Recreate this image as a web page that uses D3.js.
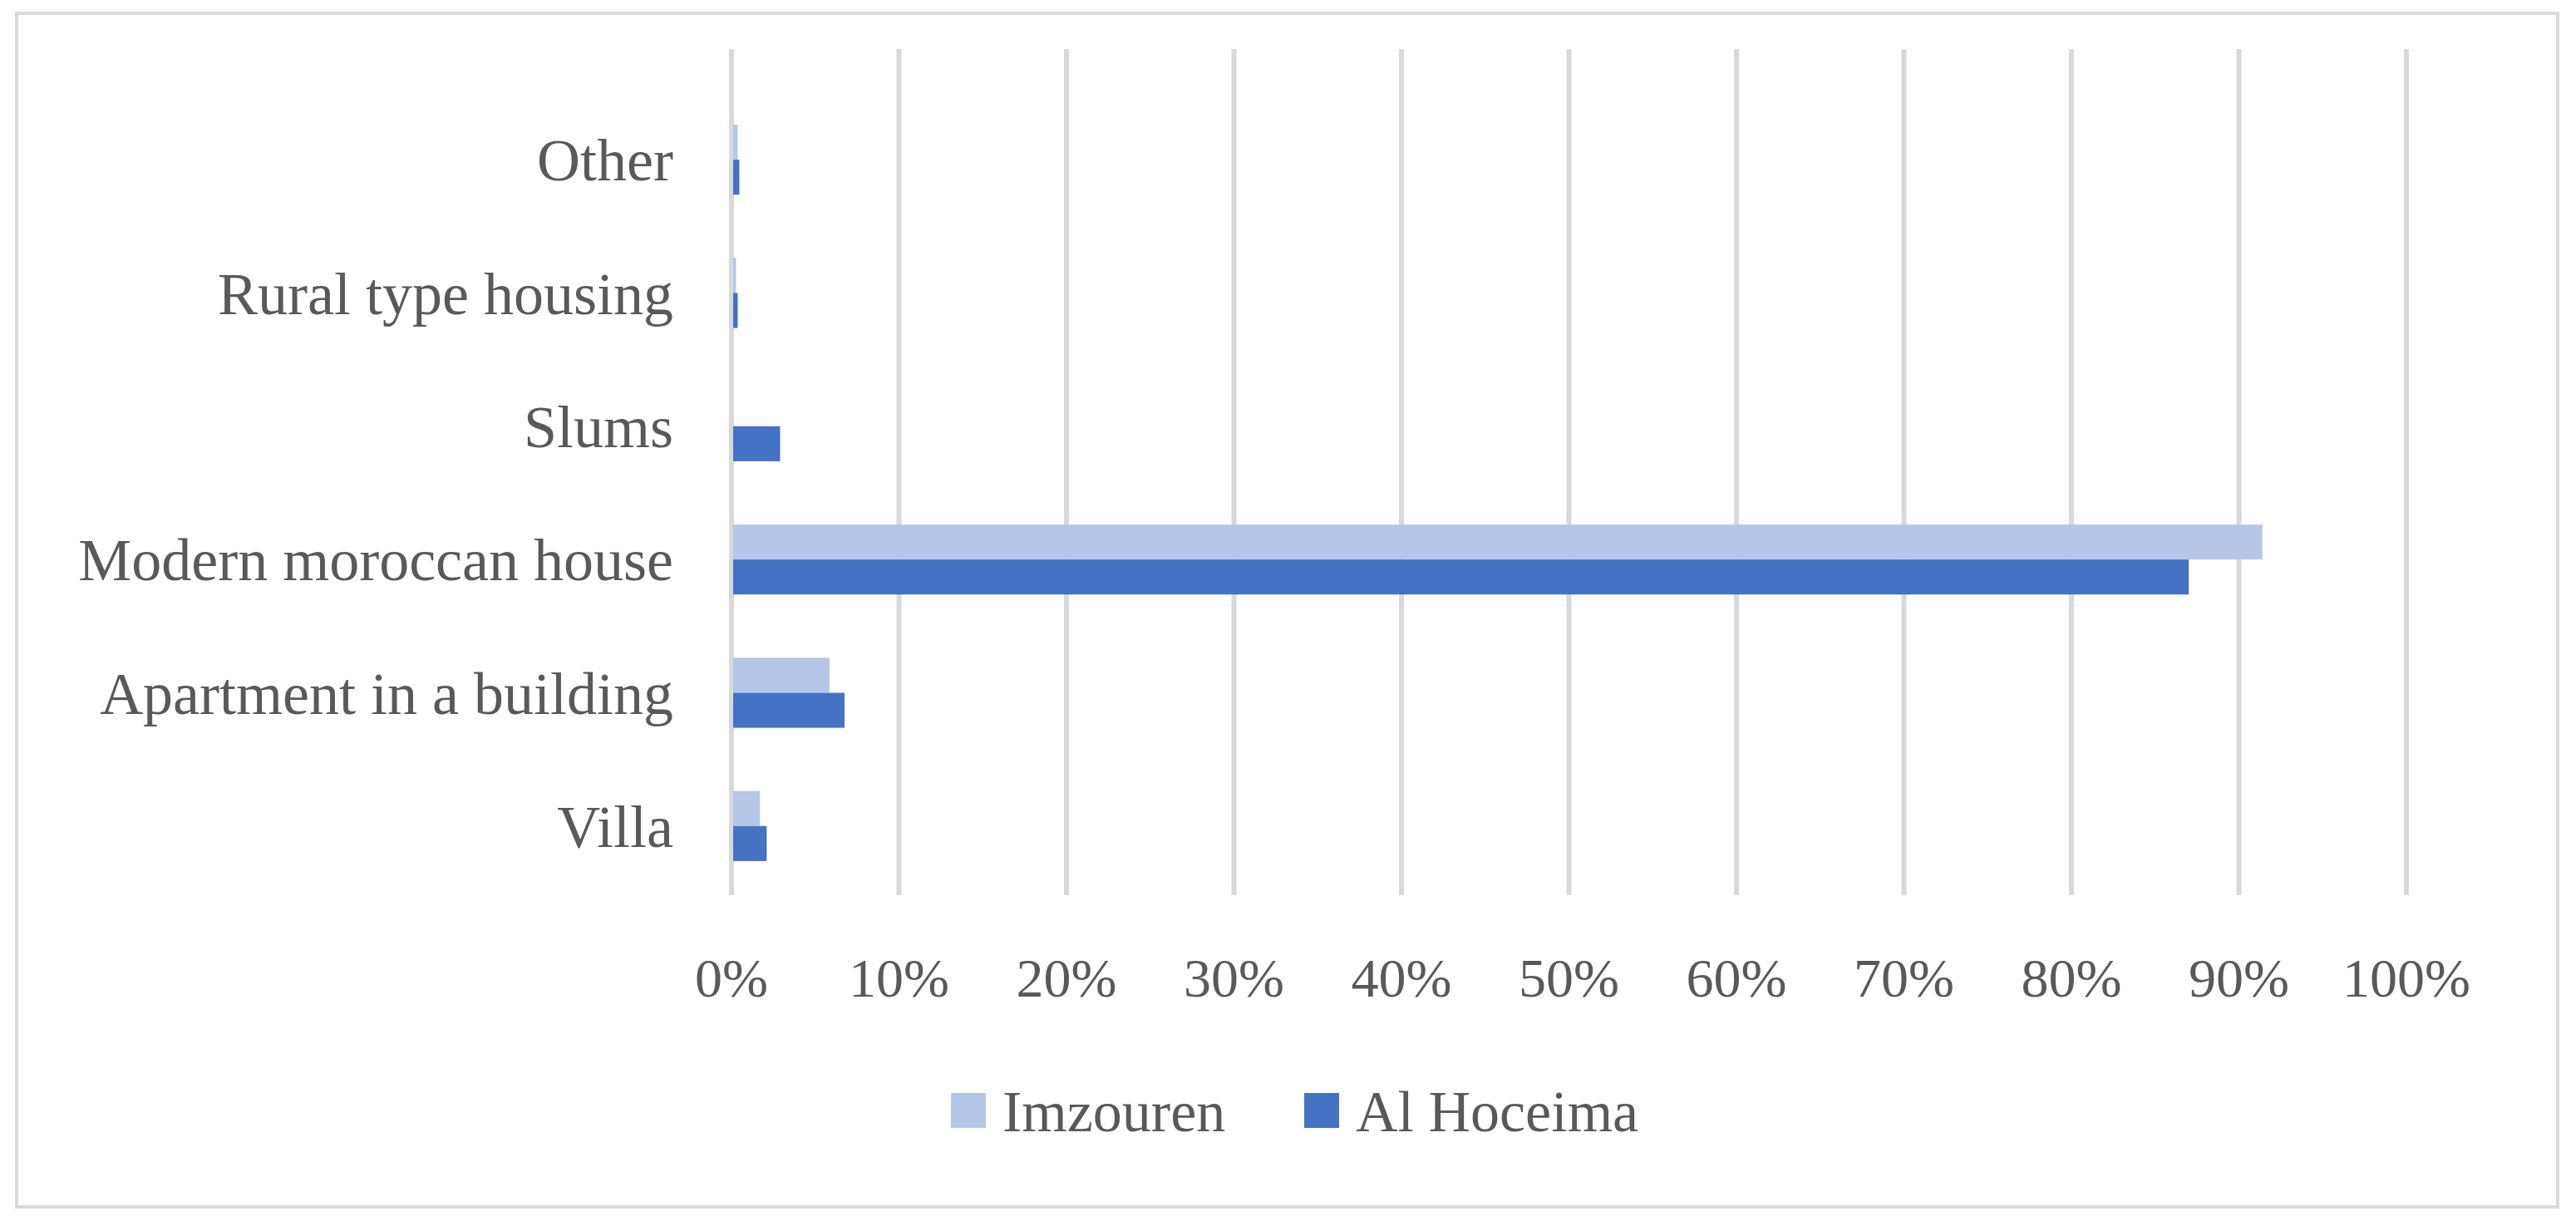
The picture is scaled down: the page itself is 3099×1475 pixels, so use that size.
<!DOCTYPE html>
<html>
<head>
<meta charset="utf-8">
<script src="https://cdn.jsdelivr.net/npm/d3@7"></script>
<style>
  body { margin: 0; background: #fff; }
  text { font-family: "Liberation Serif", "DejaVu Serif", serif; fill: #595959; }
</style>
</head>
<body>
<div id="chart"></div>
<script>
const width = 3099;
const height = 1475;
const margin = { top: 59, right: 204, bottom: 398, left: 880 };

// data, top to bottom as drawn
const categories = ["Other", "Rural type housing", "Slums", "Modern moroccan house", "Apartment in a building", "Villa"];
const imzouren = [0.37, 0.27, 0.07, 91.4, 5.85, 1.7];
const alHoceima = [0.47, 0.37, 2.9, 87.0, 6.75, 2.1];
const seriesNames = ["Imzouren", "Al Hoceima"];
const seriesColors = ["#b4c7e7", "#4472c4"];
const xTicks = [0, 10, 20, 30, 40, 50, 60, 70, 80, 90, 100];

const svg = d3.select("#chart")
    .append("svg")
    .attr("width", width)
    .attr("height", height);

// outer frame
svg.append("rect")
    .attr("x", 20).attr("y", 16)
    .attr("width", 3057).attr("height", 1436)
    .attr("fill", "#fff")
    .attr("stroke", "#d9d9d9")
    .attr("stroke-width", 4);

const x = d3.scaleLinear().domain([0, 100]).range([margin.left, width - margin.right]);
const y = d3.scaleBand().domain(categories).range([112, 1074]).paddingInner(0.475).paddingOuter(0.2375);
const sub = d3.scaleBand().domain(seriesNames).range([0, y.bandwidth()]);

// gridlines
svg.append("g")
    .selectAll("line")
    .data(xTicks)
    .join("line")
    .attr("x1", d => x(d)).attr("x2", d => x(d))
    .attr("y1", margin.top).attr("y2", height - margin.bottom)
    .attr("stroke", "#d9d9d9")
    .attr("stroke-width", 6);

// bars
const rows = categories.map((c, i) => ({ cat: c, vals: [imzouren[i], alHoceima[i]] }));
svg.append("g")
    .selectAll("g")
    .data(rows)
    .join("g")
    .attr("transform", d => `translate(0,${y(d.cat)})`)
    .selectAll("rect")
    .data(d => d.vals.map((v, j) => ({ v, s: seriesNames[j], c: seriesColors[j] })))
    .join("rect")
    .attr("x", x(0) + 2)
    .attr("y", d => sub(d.s))
    .attr("width", d => Math.max(0, x(d.v) - x(0) - 2))
    .attr("height", sub.bandwidth())
    .attr("fill", d => d.c);

// category labels
svg.append("g")
    .selectAll("text")
    .data(categories)
    .join("text")
    .attr("x", 810)
    .attr("y", d => y(d) + y.bandwidth() / 2)
    .attr("dy", "0.35em")
    .attr("text-anchor", "end")
    .style("font-size", "72px")
    .text(d => d);

// x tick labels
svg.append("g")
    .selectAll("text")
    .data(xTicks)
    .join("text")
    .attr("x", d => x(d))
    .attr("y", 1176)
    .attr("dy", "0.35em")
    .attr("text-anchor", "middle")
    .style("font-size", "66px")
    .text(d => d + "%");

// legend
const legendX = [1144, 1569];
const legend = svg.append("g")
    .selectAll("g")
    .data(seriesNames)
    .join("g")
    .attr("transform", (d, i) => `translate(${legendX[i]},1336)`);
legend.append("rect")
    .attr("y", -21).attr("width", 42).attr("height", 42)
    .attr("fill", (d, i) => seriesColors[i]);
legend.append("text")
    .attr("x", 62)
    .attr("dy", "0.35em")
    .style("font-size", "70px")
    .text(d => d);
</script>
</body>
</html>
